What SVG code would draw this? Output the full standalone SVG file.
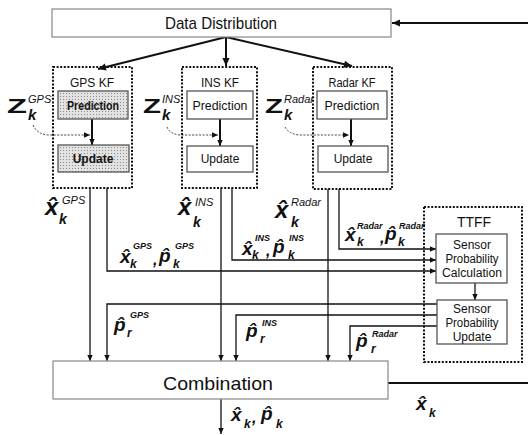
<svg xmlns="http://www.w3.org/2000/svg" width="528" height="435" viewBox="0 0 528 435">
<style>
.t{font-family:"Liberation Sans",Arial,sans-serif;fill:#111;text-anchor:middle}
.box{fill:#fff;stroke:#555;stroke-width:1.3}
.lbox{fill:#fff;stroke:#888;stroke-width:1.2}
.kf{fill:none;stroke:#111;stroke-width:2;stroke-dasharray:2,1.6}
.ln{fill:none;stroke:#111;stroke-width:1.3}
.thk{fill:none;stroke:#111;stroke-width:2}
.dsh{fill:none;stroke:#444;stroke-width:1;stroke-dasharray:2,1.5}
.m{font-family:"Liberation Sans",Arial,sans-serif;font-weight:bold;font-style:italic;fill:#111}
.z{font-family:"Liberation Sans",Arial,sans-serif;font-weight:bold;font-style:normal;fill:#111}
.sp{font-family:"Liberation Sans",Arial,sans-serif;font-style:italic;fill:#111}
</style>
<defs>
<marker id="ah" viewBox="0 0 10 10" refX="10" refY="5" markerWidth="7" markerHeight="6" orient="auto" markerUnits="userSpaceOnUse"><path d="M0,0.5 L10,5 L0,9.5 z" fill="#111"/></marker>
<marker id="ahb" viewBox="0 0 10 10" refX="10" refY="5" markerWidth="9" markerHeight="8" orient="auto" markerUnits="userSpaceOnUse"><path d="M0,0.5 L10,5 L0,9.5 z" fill="#111"/></marker>
<pattern id="dots" width="3" height="3" patternUnits="userSpaceOnUse"><rect width="3" height="3" fill="#e2e2e2"/><rect width="1" height="1" fill="#8a8a8a"/></pattern>
</defs>

<g id="connectors">
<path class="thk" d="M528,23 H392" marker-end="url(#ahb)"/>
<path class="thk" d="M226,37 L98,69" marker-end="url(#ahb)"/>
<path class="thk" d="M226,37 V66" marker-end="url(#ahb)"/>
<path class="thk" d="M226,37 L352,66" marker-end="url(#ahb)"/>
<path class="thk" d="M92,119 V145" marker-end="url(#ah)"/>
<path class="thk" d="M220,119 V146" marker-end="url(#ah)"/>
<path class="thk" d="M351,119 V146" marker-end="url(#ah)"/>
<path class="dsh" d="M33,125 Q37,134 48,135 L90,135" marker-end="url(#ah)"/>
<path class="dsh" d="M167,127 Q170,134 180,135 L218,135" marker-end="url(#ah)"/>
<path class="dsh" d="M285,127 Q289,134 299,135 L349,135" marker-end="url(#ah)"/>
<path class="ln" d="M90,188 V361" marker-end="url(#ah)"/>
<path class="ln" d="M221,188 V361" marker-end="url(#ah)"/>
<path class="ln" d="M328,189 V361" marker-end="url(#ah)"/>
<path class="ln" d="M107,188 V271 H436" marker-end="url(#ah)"/>
<path class="ln" d="M232,188 V260 H436" marker-end="url(#ah)"/>
<path class="ln" d="M339,189 V249 H436" marker-end="url(#ah)"/>
<path class="ln" d="M437,304 H107 V361" marker-end="url(#ah)"/>
<path class="ln" d="M437,315 H236 V361" marker-end="url(#ah)"/>
<path class="ln" d="M437,326 H350 V361" marker-end="url(#ah)"/>
<path class="ln" d="M475,283 V300" marker-end="url(#ah)"/>
<path class="thk" d="M388,383 H528"/>
<path class="ln" d="M221,399 V434" marker-end="url(#ah)"/>
</g>

<g id="data-distribution">
<rect class="lbox" x="52" y="9" width="339" height="28"/>
<text class="t" x="221" y="29" font-size="17" textLength="112" lengthAdjust="spacingAndGlyphs">Data Distribution</text>
</g>

<g id="gps-kf">
<rect class="kf" x="53" y="67" width="79" height="121"/>
<text class="t" x="92" y="87" font-size="12" textLength="44" lengthAdjust="spacingAndGlyphs">GPS KF</text>
<rect x="58" y="91" width="70" height="28" fill="url(#dots)" stroke="#555" stroke-width="1.3"/>
<text class="t" x="93" y="110" font-size="12" font-weight="bold" textLength="52" lengthAdjust="spacingAndGlyphs">Prediction</text>
<rect x="58" y="145" width="71" height="27" fill="url(#dots)" stroke="#555" stroke-width="1.3"/>
<text class="t" x="93" y="163" font-size="12" font-weight="bold">Update</text>
</g>

<g id="ins-kf">
<rect class="kf" x="182" y="67" width="75" height="121"/>
<text class="t" x="220" y="87" font-size="12" textLength="38" lengthAdjust="spacingAndGlyphs">INS KF</text>
<rect class="box" x="187" y="91" width="66" height="28"/>
<text class="t" x="220" y="110" font-size="12" textLength="55" lengthAdjust="spacingAndGlyphs">Prediction</text>
<rect class="box" x="187" y="146" width="66" height="26"/>
<text class="t" x="220" y="163" font-size="12">Update</text>
</g>

<g id="radar-kf">
<rect class="kf" x="313" y="67" width="79" height="122"/>
<text class="t" x="352" y="87" font-size="12" textLength="47" lengthAdjust="spacingAndGlyphs">Radar KF</text>
<rect class="box" x="317" y="91" width="70" height="28"/>
<text class="t" x="352" y="110" font-size="12" textLength="55" lengthAdjust="spacingAndGlyphs">Prediction</text>
<rect class="box" x="318" y="146" width="70" height="26"/>
<text class="t" x="353" y="163" font-size="12">Update</text>
</g>

<g id="ttff">
<rect class="kf" x="424" y="207" width="98" height="155"/>
<text class="t" x="474" y="227" font-size="15" textLength="34" lengthAdjust="spacingAndGlyphs">TTFF</text>
<rect class="box" x="436" y="234" width="71" height="49"/>
<text class="t" x="472" y="249" font-size="12">Sensor</text>
<text class="t" x="472" y="263" font-size="12" textLength="53" lengthAdjust="spacingAndGlyphs">Probability</text>
<text class="t" x="472" y="277" font-size="12" textLength="60" lengthAdjust="spacingAndGlyphs">Calculation</text>
<rect class="box" x="437" y="300" width="70" height="44"/>
<text class="t" x="472" y="313" font-size="12">Sensor</text>
<text class="t" x="472" y="327" font-size="12" textLength="53" lengthAdjust="spacingAndGlyphs">Probability</text>
<text class="t" x="472" y="341" font-size="12">Update</text>
</g>

<g id="combination">
<rect class="lbox" x="53" y="361" width="335" height="38"/>
<text class="t" x="218" y="390" font-size="19" textLength="110" lengthAdjust="spacingAndGlyphs">Combination</text>
</g>

<g id="labels">
<g id="z-gps"><text class="z" x="7" y="113" font-size="21" textLength="20" lengthAdjust="spacingAndGlyphs">Z</text><text><tspan class="sp" x="28" y="103" font-size="11">GPS</tspan><tspan class="m" x="28" y="120" font-size="15">k</tspan></text></g>
<g id="z-ins"><text class="z" x="143" y="113" font-size="21" textLength="18" lengthAdjust="spacingAndGlyphs">Z</text><text><tspan class="sp" x="162" y="103" font-size="11">INS</tspan><tspan class="m" x="162" y="120" font-size="15">k</tspan></text></g>
<g id="z-radar"><text class="z" x="265" y="113" font-size="21" textLength="18" lengthAdjust="spacingAndGlyphs">Z</text><text><tspan class="sp" x="284" y="103" font-size="11">Radar</tspan><tspan class="m" x="284" y="120" font-size="15">k</tspan></text></g>

<text><tspan class="m" x="45" y="215" font-size="24">x̂</tspan><tspan class="sp" x="62" y="204" font-size="11">GPS</tspan><tspan class="m" x="59" y="224" font-size="14">k</tspan></text>
<text><tspan class="m" x="178" y="215" font-size="24">x̂</tspan><tspan class="sp" x="195" y="206" font-size="11">INS</tspan><tspan class="m" x="193" y="227" font-size="14">k</tspan></text>
<text><tspan class="m" x="275" y="218" font-size="24">x̂</tspan><tspan class="sp" x="291" y="206" font-size="11">Radar</tspan><tspan class="m" x="291" y="227" font-size="14">k</tspan></text>

<text><tspan class="m" x="120" y="263" font-size="19">x̂</tspan><tspan class="m" x="133" y="249" font-size="9">GPS</tspan><tspan class="m" x="130" y="268" font-size="12">k</tspan><tspan class="m" x="153" y="265" font-size="16">,</tspan><tspan class="m" x="159" y="262" font-size="19">p̂</tspan><tspan class="m" x="175" y="249" font-size="9">GPS</tspan><tspan class="m" x="173" y="268" font-size="12">k</tspan></text>
<text><tspan class="m" x="242" y="255" font-size="19">x̂</tspan><tspan class="m" x="255" y="241" font-size="9">INS</tspan><tspan class="m" x="252" y="259" font-size="12">k</tspan><tspan class="m" x="266" y="256" font-size="16">,</tspan><tspan class="m" x="273" y="253" font-size="19">p̂</tspan><tspan class="m" x="289" y="241" font-size="9">INS</tspan><tspan class="m" x="288" y="259" font-size="12">k</tspan></text>
<text><tspan class="m" x="345" y="241" font-size="19">x̂</tspan><tspan class="m" x="357" y="229" font-size="9">Radar</tspan><tspan class="m" x="357" y="246" font-size="12">k</tspan><tspan class="m" x="380" y="243" font-size="16">,</tspan><tspan class="m" x="385" y="240" font-size="19">p̂</tspan><tspan class="m" x="399" y="229" font-size="9">Radar</tspan><tspan class="m" x="398" y="246" font-size="12">k</tspan></text>

<text><tspan class="m" x="114" y="331" font-size="19">p̂</tspan><tspan class="m" x="130" y="318" font-size="9">GPS</tspan><tspan class="m" x="127" y="337" font-size="12">r</tspan></text>
<text><tspan class="m" x="246" y="337" font-size="19">p̂</tspan><tspan class="m" x="262" y="326" font-size="9">INS</tspan><tspan class="m" x="260" y="343" font-size="12">r</tspan></text>
<text><tspan class="m" x="356" y="347" font-size="19">p̂</tspan><tspan class="m" x="372" y="337" font-size="9">Radar</tspan><tspan class="m" x="371" y="353" font-size="12">r</tspan></text>

<text><tspan class="m" x="231" y="421" font-size="19">x̂</tspan><tspan class="m" x="244" y="428" font-size="12">k</tspan><tspan class="m" x="252" y="423" font-size="16">,</tspan><tspan class="m" x="261" y="420" font-size="19">p̂</tspan><tspan class="m" x="276" y="428" font-size="12">k</tspan></text>
<text><tspan class="m" x="416" y="410" font-size="19">x̂</tspan><tspan class="m" x="429" y="417" font-size="12">k</tspan></text>
</g>
</svg>
